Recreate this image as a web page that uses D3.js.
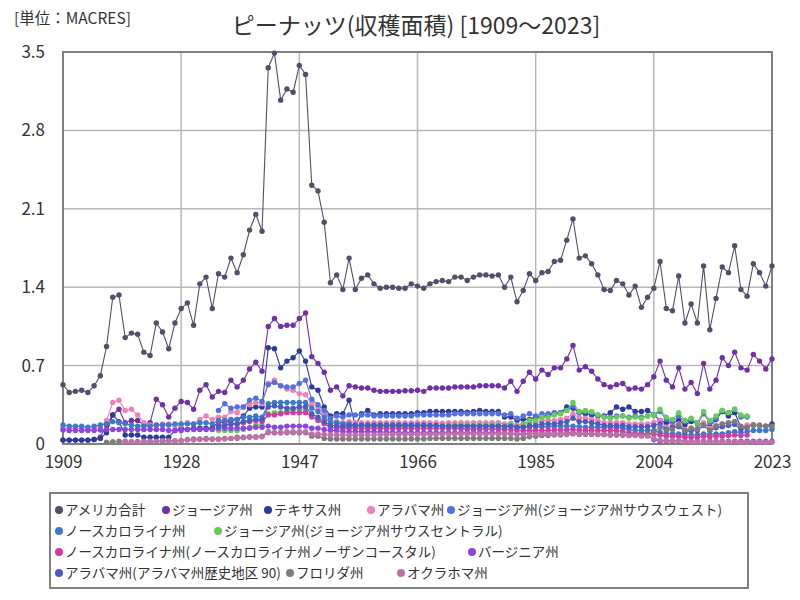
<!DOCTYPE html>
<html lang="ja"><head><meta charset="utf-8">
<script src="https://cdn.jsdelivr.net/npm/d3@7"></script>
<style>body{margin:0;background:#fff;}svg{display:block;font-family:"Noto Sans CJK JP","Noto Sans",sans-serif;}</style>
</head><body>
<svg id="c" width="800" height="600"></svg>
<script>
const startYear = 1909, endYear = 2023;
const years = d3.range(startYear, endYear + 1);
const xTicks = [1909, 1928, 1947, 1966, 1985, 2004, 2023];
const yTicks = [0, 0.7, 1.4, 2.1, 2.8, 3.5];
const yTickLabels = ["0", "0.7", "1.4", "2.1", "2.8", "3.5"];
const seriesNames = ["アメリカ合計", "ジョージア州", "テキサス州", "アラバマ州", "ジョージア州(ジョージア州サウスウェスト)", "ノースカロライナ州", "ジョージア州(ジョージア州サウスセントラル)", "ノースカロライナ州(ノースカロライナ州ノーザンコースタル)", "バージニア州", "アラバマ州(アラバマ州歴史地区 90)", "フロリダ州", "オクラホマ州"];
const N = null;

const usTotal = [0.53,
0.46,0.47,0.48,0.46,0.52,0.61,0.87,1.31,1.33,0.95,
0.99,0.98,0.82,0.79,1.08,1.00,0.85,1.08,1.21,1.26,
1.06,1.43,1.49,1.21,1.52,1.49,1.66,1.53,1.69,1.91,
2.05,1.90,3.36,3.49,3.07,3.17,3.14,3.38,3.30,2.31,
2.26,1.98,1.44,1.51,1.38,1.66,1.38,1.48,1.51,1.43,
1.39,1.40,1.40,1.39,1.39,1.43,1.41,1.39,1.43,1.45,
1.46,1.45,1.49,1.49,1.46,1.49,1.51,1.51,1.50,1.51,
1.40,1.49,1.27,1.37,1.52,1.46,1.53,1.54,1.63,1.64,
1.82,2.01,1.66,1.68,1.61,1.51,1.38,1.37,1.46,1.43,
1.33,1.41,1.22,1.31,1.39,1.63,1.21,1.19,1.50,1.08,
1.25,1.08,1.59,1.02,1.30,1.58,1.53,1.77,1.38,1.32,
1.61,1.53,1.41,1.59];

const georgia = [0.035,
0.035,0.035,0.035,0.035,0.04,0.06,0.17,0.26,0.31,0.19,
0.21,0.21,0.17,0.19,0.40,0.35,0.24,0.32,0.38,0.37,
0.31,0.48,0.53,0.42,0.47,0.46,0.57,0.51,0.57,0.67,
0.73,0.65,1.05,1.12,1.05,1.06,1.06,1.12,1.17,0.78,
0.72,0.64,0.48,0.51,0.43,0.52,0.51,0.50,0.50,0.48,
0.47,0.47,0.47,0.47,0.475,0.475,0.48,0.47,0.50,0.50,
0.50,0.50,0.51,0.51,0.51,0.51,0.52,0.52,0.52,0.52,
0.50,0.56,0.47,0.56,0.64,0.58,0.66,0.62,0.68,0.68,
0.76,0.88,0.66,0.69,0.65,0.58,0.53,0.51,0.53,0.54,
0.49,0.50,0.49,0.53,0.60,0.74,0.57,0.51,0.68,0.49,
0.55,0.45,0.72,0.49,0.57,0.77,0.70,0.82,0.68,0.66,
0.80,0.74,0.67,0.76];

const texas = [0.035,
0.035,0.035,0.035,0.035,0.04,0.05,0.10,0.26,0.20,0.08,
0.08,0.08,0.06,0.06,0.06,0.06,0.06,0.12,0.14,0.13,
0.14,0.14,0.14,0.14,0.20,0.19,0.21,0.22,0.25,0.32,
0.33,0.33,0.86,0.85,0.68,0.74,0.77,0.83,0.74,0.51,
0.48,0.33,0.25,0.27,0.27,0.39,0.16,0.27,0.30,0.26,
0.27,0.27,0.27,0.27,0.27,0.27,0.28,0.28,0.29,0.29,
0.29,0.29,0.29,0.29,0.285,0.29,0.30,0.29,0.29,0.29,
0.24,0.24,0.21,0.22,0.22,0.24,0.24,0.26,0.27,0.28,
0.33,0.32,0.28,0.27,0.26,0.25,0.25,0.28,0.33,0.31,
0.33,0.29,0.29,0.30,0.26,0.21,0.19,0.19,0.21,0.17,
0.20,0.19,0.17,0.16,0.22,0.29,0.25,0.28,0.15,0.16,
0.17,0.16,0.16,0.18];

const alabama = [0.14,
0.14,0.14,0.14,0.13,0.14,0.15,0.21,0.37,0.39,0.30,
0.31,0.26,0.19,0.17,0.17,0.18,0.18,0.16,0.17,0.19,
0.18,0.22,0.25,0.22,0.24,0.24,0.29,0.28,0.33,0.35,
0.37,0.36,0.54,0.57,0.52,0.49,0.48,0.45,0.44,0.36,
0.33,0.28,0.21,0.20,0.19,0.20,0.19,0.19,0.19,0.19,
0.19,0.19,0.19,0.19,0.19,0.19,0.19,0.19,0.19,0.19,
0.185,0.19,0.19,0.19,0.19,0.19,0.19,0.19,0.19,0.19,
0.18,0.185,0.17,0.175,0.19,0.19,0.21,0.21,0.21,0.22,
0.23,0.27,0.235,0.23,0.22,0.21,0.19,0.19,0.19,0.19,
0.18,0.18,0.18,0.18,0.19,0.21,0.15,0.17,0.18,0.13,
0.14,0.14,0.19,0.14,0.17,0.18,0.19,0.20,0.15,0.17,
0.17,0.16,0.16,0.15];

const gaSouthwest = [N,
N,N,N,N,N,N,N,N,N,N,
N,N,N,N,N,N,N,N,N,N,
N,N,N,N,0.30,0.36,0.32,0.33,0.33,0.39,
0.41,0.38,0.53,0.55,0.52,0.51,0.51,0.54,0.57,0.40,
0.35,0.30,0.23,0.25,0.24,0.26,0.26,0.26,0.26,0.25,
0.25,0.25,0.25,0.25,0.25,0.25,0.26,0.26,0.26,0.26,
0.26,0.26,0.27,0.27,0.27,0.27,0.27,0.27,0.27,0.27,
0.26,0.27,0.23,0.25,0.27,0.25,0.27,0.27,0.28,0.28,
0.30,0.34,0.28,0.29,0.28,0.26,0.24,0.24,0.25,0.25,
0.24,0.25,0.24,0.25,0.26,0.29,0.22,0.20,0.25,0.20,
0.22,0.18,0.27,0.19,0.23,0.30,0.28,0.31,0.24,0.24,
N,N,N,N];

const northCarolina = [0.17,
0.16,0.16,0.16,0.15,0.16,0.17,0.18,0.20,0.19,0.18,
0.17,0.16,0.16,0.16,0.17,0.17,0.17,0.18,0.18,0.18,
0.18,0.19,0.19,0.18,0.21,0.21,0.22,0.22,0.24,0.24,
0.25,0.24,0.36,0.37,0.37,0.37,0.37,0.37,0.37,0.32,
0.29,0.24,0.19,0.19,0.18,0.18,0.17,0.17,0.17,0.17,
0.17,0.17,0.17,0.17,0.17,0.17,0.17,0.17,0.165,0.165,
0.165,0.165,0.165,0.16,0.16,0.16,0.16,0.16,0.16,0.16,
0.16,0.16,0.15,0.15,0.155,0.155,0.155,0.155,0.16,0.16,
0.16,0.16,0.155,0.15,0.15,0.15,0.15,0.15,0.15,0.14,
0.13,0.12,0.12,0.12,0.12,0.105,0.09,0.09,0.09,0.08,
0.08,0.08,0.09,0.085,0.09,0.09,0.10,0.11,0.10,0.11,
0.12,0.12,0.12,0.13];

const gaSouthCentral = [N,
N,N,N,N,N,N,N,N,N,N,
N,N,N,N,N,N,N,N,N,N,
N,N,N,N,0.12,0.12,0.12,0.12,0.13,0.15,
0.17,0.17,0.27,0.28,0.28,0.29,0.31,0.31,0.30,0.25,
0.22,0.19,0.15,0.15,0.14,0.16,0.16,0.16,0.16,0.16,
0.16,0.16,0.16,0.16,0.16,0.16,0.16,0.16,0.165,0.165,
0.165,0.165,0.17,0.17,0.17,0.17,0.17,0.17,0.17,0.17,
0.16,0.18,0.15,0.18,0.21,0.21,0.24,0.24,0.26,0.27,
0.30,0.37,0.29,0.30,0.29,0.26,0.24,0.23,0.24,0.25,
0.23,0.24,0.23,0.25,0.26,0.31,0.24,0.22,0.28,0.21,
0.23,0.19,0.29,0.21,0.25,0.30,0.28,0.31,0.26,0.25,
N,N,N,N];

const ncNorthernCoastal = [N,
N,N,N,N,N,N,N,N,N,N,
N,N,N,N,N,N,N,N,N,N,
N,N,N,N,0.17,0.17,0.18,0.18,0.19,0.20,
0.21,0.20,0.26,0.26,0.27,0.28,0.28,0.28,0.28,0.24,
0.21,0.18,0.15,0.15,0.14,0.14,0.14,0.14,0.14,0.14,
0.14,0.14,0.14,0.14,0.14,0.14,0.14,0.14,0.14,0.14,
0.14,0.14,0.14,0.135,0.135,0.135,0.135,0.135,0.135,0.135,
0.13,0.13,0.12,0.12,0.12,0.12,0.12,0.12,0.125,0.125,
0.13,0.13,0.125,0.12,0.12,0.12,0.12,0.12,0.12,0.11,
0.10,0.095,0.095,0.09,0.09,0.08,0.07,0.07,0.07,0.06,
0.06,0.06,0.07,0.065,0.07,0.07,0.075,0.08,0.075,0.08,
N,N,N,N];

const virginia = [0.125,
0.12,0.12,0.12,0.12,0.12,0.125,0.13,0.13,0.13,0.13,
0.13,0.13,0.13,0.13,0.13,0.13,0.12,0.12,0.12,0.13,
0.13,0.13,0.13,0.13,0.14,0.14,0.14,0.14,0.14,0.14,
0.15,0.15,0.16,0.15,0.15,0.16,0.16,0.16,0.16,0.14,
0.14,0.13,0.12,0.12,0.11,0.11,0.11,0.11,0.11,0.11,
0.105,0.105,0.105,0.10,0.10,0.10,0.10,0.10,0.10,0.10,
0.10,0.10,0.10,0.10,0.10,0.10,0.10,0.10,0.10,0.10,
0.095,0.095,0.09,0.09,0.095,0.095,0.095,0.095,0.095,0.095,
0.10,0.10,0.095,0.095,0.09,0.09,0.085,0.085,0.085,0.08,
0.08,0.08,0.08,0.08,0.04,0.025,0.025,0.025,0.025,0.025,
0.025,0.025,0.025,0.025,0.025,0.025,0.025,0.025,0.025,0.025,
0.025,0.025,0.025,0.025];

const alHistoric90 = [N,
N,N,N,N,N,N,N,N,N,N,
N,N,N,N,N,N,N,N,N,N,
N,N,N,N,0.16,0.16,0.18,0.18,0.20,0.21,
0.22,0.22,0.33,0.34,0.33,0.32,0.32,0.33,0.33,0.27,
0.24,0.20,0.165,0.165,0.16,0.165,0.165,0.165,0.165,0.165,
0.165,0.165,0.165,0.165,0.165,0.165,0.165,0.165,0.165,0.165,
0.16,0.16,0.16,0.16,0.16,0.16,0.16,0.16,0.16,0.16,
0.155,0.16,0.15,0.15,0.165,0.165,0.18,0.18,0.18,0.19,
0.20,0.23,0.20,0.20,0.19,0.18,0.165,0.165,0.165,0.165,
0.155,0.155,0.155,0.155,0.165,0.18,0.13,0.15,0.155,0.11,
0.12,0.12,0.165,0.12,0.145,0.155,0.165,0.175,0.13,0.145,
N,N,N,N];

const florida = [N,
N,N,N,N,N,N,0.015,0.02,0.025,0.025,
0.02,0.02,0.02,0.02,0.02,0.025,0.025,0.025,0.03,0.04,
0.045,0.045,0.05,0.045,0.045,0.05,0.05,0.06,0.06,0.065,
0.065,0.07,0.11,0.10,0.10,0.10,0.10,0.10,0.10,0.07,
0.07,0.05,0.045,0.045,0.045,0.045,0.045,0.045,0.045,0.045,
0.045,0.045,0.045,0.045,0.045,0.045,0.045,0.045,0.05,0.05,
0.05,0.05,0.05,0.05,0.05,0.05,0.05,0.05,0.05,0.05,
0.05,0.05,0.045,0.05,0.065,0.07,0.075,0.075,0.08,0.08,
0.085,0.09,0.085,0.085,0.085,0.085,0.085,0.08,0.08,0.08,
0.075,0.08,0.08,0.085,0.11,0.15,0.12,0.13,0.17,0.12,
0.14,0.13,0.17,0.12,0.16,0.18,0.19,0.20,0.16,0.15,
0.17,0.17,0.16,0.16];

const oklahoma = [N,
N,N,N,N,N,N,N,N,N,0.02,
0.02,0.02,0.025,0.025,0.025,0.03,0.03,0.03,0.03,0.035,
0.035,0.04,0.04,0.04,0.04,0.045,0.05,0.05,0.055,0.06,
0.06,0.065,0.10,0.10,0.10,0.11,0.11,0.11,0.11,0.09,
0.09,0.085,0.08,0.08,0.08,0.08,0.08,0.08,0.08,0.08,
0.085,0.085,0.085,0.085,0.085,0.085,0.085,0.085,0.085,0.085,
0.09,0.09,0.09,0.09,0.09,0.09,0.09,0.09,0.09,0.09,
0.09,0.09,0.085,0.085,0.09,0.09,0.09,0.09,0.09,0.09,
0.09,0.095,0.09,0.09,0.09,0.085,0.085,0.08,0.08,0.08,
0.075,0.075,0.07,0.07,0.05,0.035,0.03,0.03,0.03,0.02,
0.02,0.02,0.02,0.02,0.02,0.02,0.02,0.02,0.015,0.015,
0.015,0.015,0.015,0.015];

const seriesValues = [usTotal, georgia, texas, alabama, gaSouthwest, northCarolina, gaSouthCentral, ncNorthernCoastal, virginia, alHistoric90, florida, oklahoma];
const seriesColors = ["#50506a", "#7030a8", "#2c3a9c", "#f080b8", "#5470e0", "#3c7ac8", "#66cc55", "#d03ca0", "#8c46e0", "#4a5cc4", "#7c7c7c", "#c070a8"];

// ---------- layout ----------
const svg = d3.select("#c");
const plot = {left: 63, right: 772, top: 52, bottom: 444};
const x = d3.scaleLinear().domain([startYear, endYear]).range([plot.left, plot.right]);
const y = d3.scaleLinear().domain([0, 3.5]).range([plot.bottom, plot.top]);

// title
svg.append("text").attr("x", 416).attr("y", 34).attr("text-anchor", "middle")
  .attr("font-size", 23).attr("fill", "#333").text("ピーナッツ(収穫面積) [1909～2023]");
svg.append("text").attr("x", 14).attr("y", 24).attr("font-size", 15.5).attr("fill", "#333").text("[単位：MACRES]");

// grid
const grid = svg.append("g");
grid.selectAll("line.h").data(yTicks).join("line")
  .attr("x1", plot.left).attr("x2", plot.right).attr("y1", d => y(d)).attr("y2", d => y(d))
  .attr("stroke", "#b8b8b8").attr("stroke-width", 1.5);
grid.selectAll("line.v").data(xTicks).join("line")
  .attr("y1", plot.top).attr("y2", plot.bottom).attr("x1", d => x(d)).attr("x2", d => x(d))
  .attr("stroke", "#b8b8b8").attr("stroke-width", 1.5);
svg.append("rect").attr("x", plot.left).attr("y", plot.top)
  .attr("width", plot.right - plot.left).attr("height", plot.bottom - plot.top)
  .attr("fill", "none").attr("stroke", "#808080").attr("stroke-width", 2);

// axes labels
const yAxis = d3.axisLeft(y).tickValues(yTicks).tickFormat((d, i) => yTickLabels[i]).tickSize(0).tickPadding(18);
const ya = svg.append("g").attr("transform", `translate(${plot.left},0)`).call(yAxis);
ya.select(".domain").remove();
ya.selectAll("text").attr("font-size", 17).attr("fill", "#333").attr("font-family", '"Noto Sans CJK JP",sans-serif');
const xAxis = d3.axisBottom(x).tickValues(xTicks).tickFormat(d3.format("d")).tickSize(0).tickPadding(12);
const xa = svg.append("g").attr("transform", `translate(0,${plot.bottom})`).call(xAxis);
xa.select(".domain").remove();
xa.selectAll("text").attr("font-size", 17).attr("fill", "#333").attr("font-family", '"Noto Sans CJK JP",sans-serif');

// series
const line = d3.line().defined(d => d.v != null).x(d => x(d.year)).y(d => y(d.v));
const gSeries = svg.append("g");
seriesValues.forEach((vals, i) => {
  const pts = years.map((yr, k) => ({year: yr, v: vals[k]}));
  const g = gSeries.append("g");
  g.append("path").datum(pts).attr("d", line).attr("fill", "none")
    .attr("stroke", seriesColors[i]).attr("stroke-width", 1.1);
  g.selectAll("circle").data(pts.filter(d => d.v != null)).join("circle")
    .attr("cx", d => x(d.year)).attr("cy", d => y(d.v)).attr("r", 2.7)
    .attr("fill", seriesColors[i]);
});

// legend
const legendBox = {x: 50, y: 493, w: 698, h: 95};
svg.append("rect").attr("x", legendBox.x).attr("y", legendBox.y).attr("width", legendBox.w).attr("height", legendBox.h)
  .attr("fill", "#fff").attr("stroke", "#808080").attr("stroke-width", 2);
const legendPos = [[59,510],[166,510],[268,510],[371,510],[451,510],[59,531],[218,531],[59,552],[472,552],[59,573],[290,573],[401,573]];
const lg = svg.append("g");
seriesNames.forEach((name, i) => {
  const [lx, ly] = legendPos[i];
  lg.append("circle").attr("cx", lx).attr("cy", ly).attr("r", 4).attr("fill", seriesColors[i]);
  lg.append("text").attr("x", lx + 6).attr("y", ly + 5).attr("font-size", 13.5).attr("fill", "#333").text(name);
});
</script>
</body></html>
